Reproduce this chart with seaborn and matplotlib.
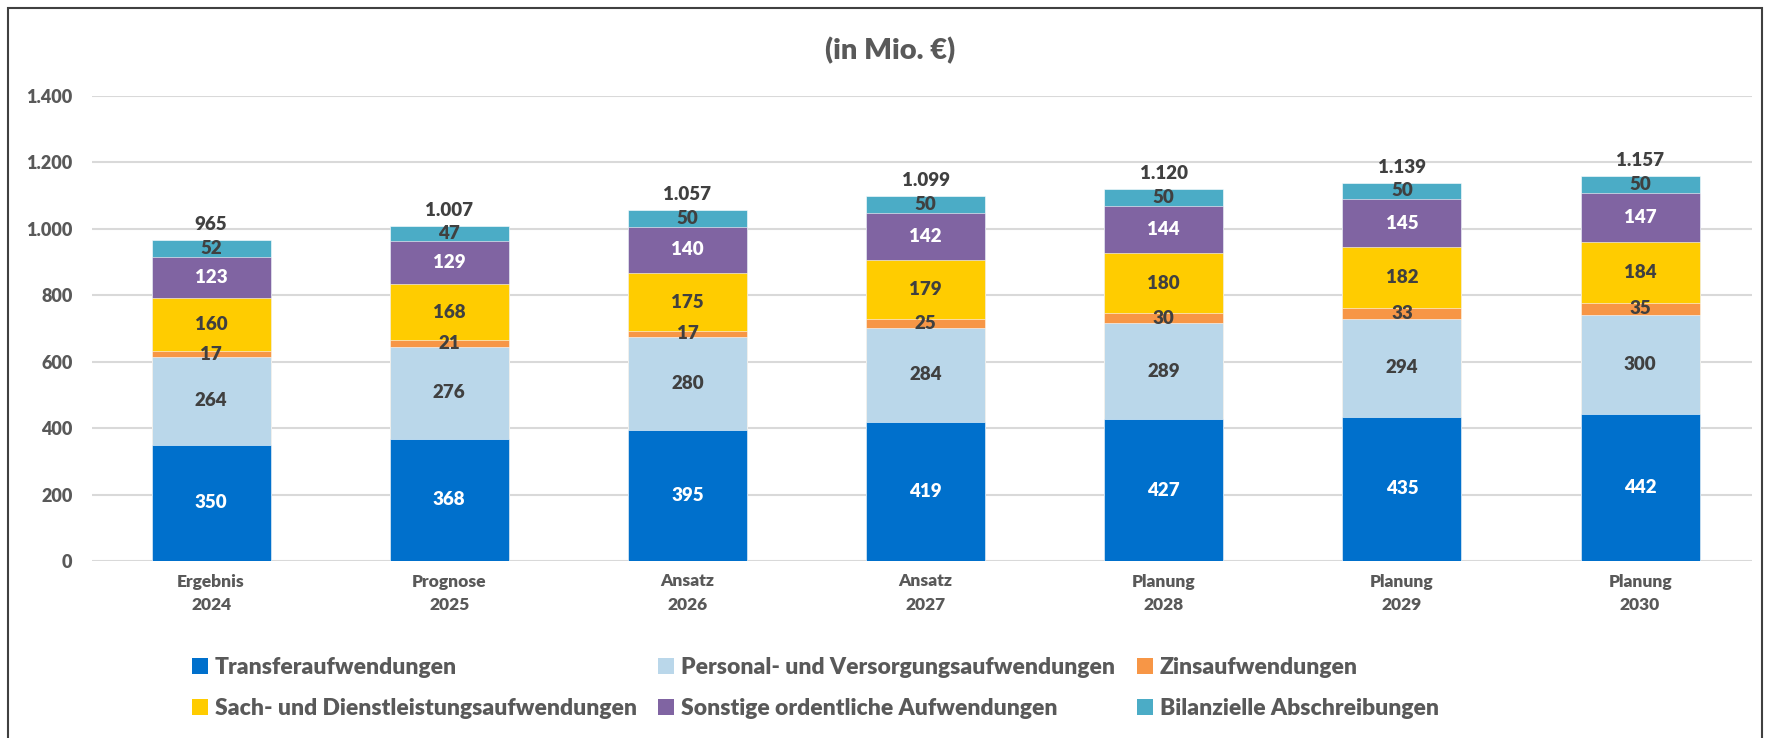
import numpy as np
import pandas as pd
import matplotlib
matplotlib.use("Agg")
import matplotlib.pyplot as plt
import seaborn as sns
from matplotlib.patches import Patch, Rectangle

categories = ["Ergebnis\n2024", "Prognose\n2025", "Ansatz\n2026", "Ansatz\n2027",
              "Planung\n2028", "Planung\n2029", "Planung\n2030"]
transfer = [350, 368, 395, 419, 427, 435, 442]
personal = [264, 276, 280, 284, 289, 294, 300]
zins = [17, 21, 17, 25, 30, 33, 35]
sach = [160, 168, 175, 179, 180, 182, 184]
sonstige = [123, 129, 140, 142, 144, 145, 147]
abschreibungen = [52, 47, 50, 50, 50, 50, 50]
totals = [965, 1007, 1057, 1099, 1120, 1139, 1157]

series_names = ["Transferaufwendungen", "Personal- und Versorgungsaufwendungen",
                "Zinsaufwendungen", "Sach- und Dienstleistungsaufwendungen",
                "Sonstige ordentliche Aufwendungen", "Bilanzielle Abschreibungen"]
colors = ["#0070CC", "#BAD7EA", "#F79646", "#FFCC00", "#8064A2", "#4BACC6"]
label_colors = ["white", "#404040", "#404040", "#404040", "white", "#404040"]

sns.set_theme(style="white")
plt.rcParams['font.family'] = ['Lato', 'DejaVu Sans']
W8 = "heavy"

df = pd.DataFrame({"Kategorie": categories})
for name, vals in zip(series_names, [transfer, personal, zins, sach, sonstige, abschreibungen]):
    df[name] = vals
cum = df[series_names].cumsum(axis=1)

W, H = 1767, 738
fig = plt.figure(figsize=(W / 100, H / 100), dpi=100)
ax = fig.add_axes([92 / W, 1 - 561 / H, (1752 - 92) / W, (561 - 96) / H])

# stacked bars: draw tallest cumulative first, lower ones on top
for i in reversed(range(len(series_names))):
    sns.barplot(x=df["Kategorie"], y=cum[series_names[i]], color=colors[i],
                saturation=1, width=0.5, ax=ax, edgecolor="white", linewidth=0.4)

# segment labels
for i, name in enumerate(series_names):
    for j in range(len(categories)):
        v = df[name][j]
        mid = cum[name][j] - v / 2
        ax.text(j, mid, str(v), ha="center", va="center", fontsize=13.5,
                fontweight=W8, color=label_colors[i])

# totals
for j, t in enumerate(totals):
    ax.annotate(f"{t:,}".replace(",", "."), (j, cum[series_names[-1]][j]),
                xytext=(0, 5), textcoords="offset points", ha="center", va="bottom",
                fontsize=13.5, fontweight=W8, color="#404040")

ax.set_ylim(0, 1400)
ax.set_xlim(-0.5, 6.47)
ax.set_yticks(range(0, 1401, 200))
ax.set_yticklabels([f"{v:,}".replace(",", ".") for v in range(0, 1401, 200)])
ax.yaxis.grid(True, color="#D9D9D9", linewidth=1.5)
ax.set_axisbelow(True)
for s in ax.spines.values():
    s.set_visible(False)
ax.set_xlabel("")
ax.set_ylabel("")
ax.tick_params(axis="both", length=0)
ax.tick_params(axis="y", pad=14, labelsize=13, labelcolor="#595959")
ax.tick_params(axis="x", pad=9, labelsize=12.5, labelcolor="#595959")
for lab in ax.get_xticklabels() + ax.get_yticklabels():
    lab.set_fontweight(W8)
for lab in ax.get_xticklabels():
    lab.set_linespacing(1.55)

fig.text(890 / W, 1 - 51 / H, "(in Mio. €)", ha="center", va="center",
         fontsize=21, fontweight=W8, color="#595959")

# legend, row-wise order like the original
order = [0, 3, 1, 4, 2, 5]
handles = [Patch(facecolor=colors[k], edgecolor="none") for k in order]
labels = [series_names[k] for k in order]
fig.legend(handles, labels, ncol=3, loc="center left",
           bbox_to_anchor=(171 / W, 1 - 688 / H), frameon=False,
           prop={"size": 16.5, "weight": W8}, labelcolor="#595959",
           handlelength=0.7, handleheight=0.7, handletextpad=0.3,
           columnspacing=0.95, labelspacing=0.9)

fig.patches.append(Rectangle((8 / W, -0.05), (1762 - 8) / W, 1.05 - 8 / H,
                             transform=fig.transFigure, fill=False,
                             edgecolor="#404040", linewidth=1.5))

fig.savefig("out.png", dpi=100)
